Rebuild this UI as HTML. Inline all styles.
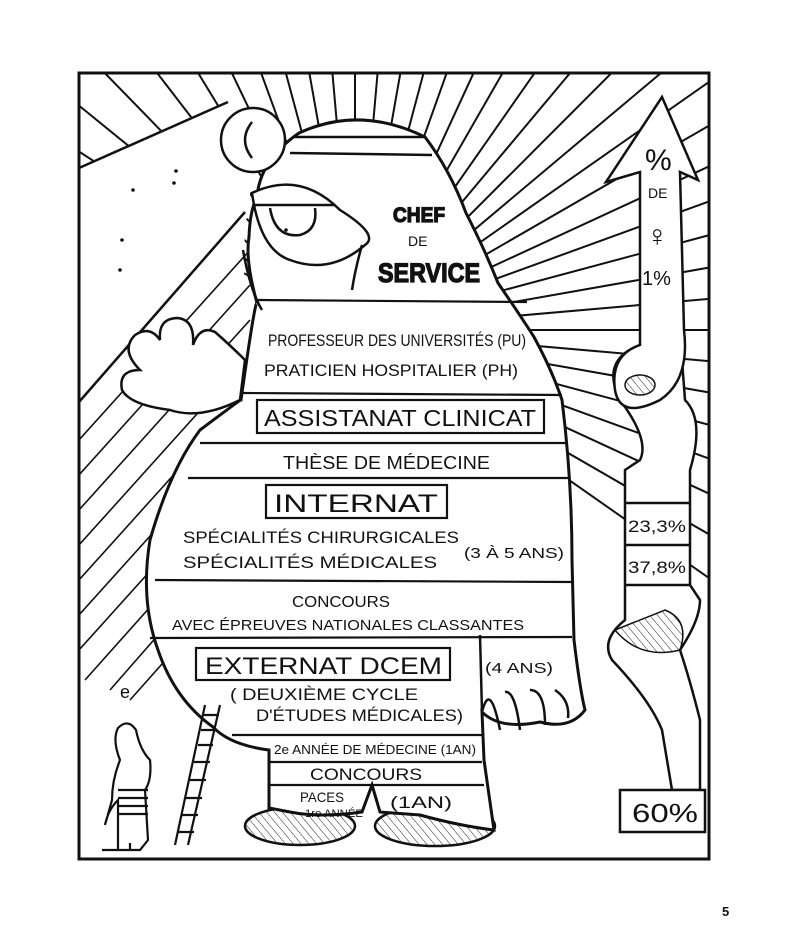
<!DOCTYPE html>
<html><head><meta charset="utf-8"><style>
html,body{margin:0;padding:0;background:#fff;width:800px;height:950px;overflow:hidden}
svg{display:block}
text{font-family:"Liberation Sans",sans-serif;fill:#111}
</style></head><body>
<svg width="800" height="950" viewBox="0 0 800 950" xmlns="http://www.w3.org/2000/svg">
<defs>
<clipPath id="fr"><rect x="79" y="73" width="630" height="786"/></clipPath>
<pattern id="hatch" width="6" height="6" patternUnits="userSpaceOnUse" patternTransform="rotate(-40)">
<line x1="0" y1="0" x2="0" y2="6" stroke="#222" stroke-width="1"/></pattern>
</defs>
<g clip-path="url(#fr)" stroke="#111" stroke-width="2">
<path d="
M355,330 L1155,330 M355,330 L1152,260 M355,330 L1143,191 M355,330 L1128,123 M355,330 L1107,57 M355,330 L1082,-6 M355,330 L1048,-70 M355,330 L1010,-129 M355,330 L967,-184 M355,330 L920,-236 M355,330 L868,-283 M355,330 L812,-324 M355,330 L753,-363 M355,330 L690,-396 M355,330 L624,-424 M355,330 L562,-446 M355,330 L495,-463 M355,330 L425,-467 M355,330 L355,-470 M355,330 L285,-467 M355,330 L215,-458 M355,330 L147,-443 M355,330 L80,-423 M355,330 L10,-390 M355,330 L-60,-350 M355,330 L-130,-300 M355,330 L-200,-240 M355,330 L-260,-170 M355,330 L-310,-100 M355,330 L-350,-30
M355,330 L1152,400 M355,330 L1143,469 M355,330 L1128,537 M355,330 L1107,603 M355,330 L1082,666 M355,330 L1048,730 M355,330 L1010,789"/>
</g>
<!-- blank plateau top-left -->
<path d="M79,168 L230,100 L250,130 L250,215 L79,405 Z" fill="#fff" stroke="none"/>
<path d="M79,168 L228,102" stroke="#111" stroke-width="2.5" fill="none"/>
<path d="M79,402 L245,212" stroke="#111" stroke-width="2.5" fill="none"/>
<g fill="#111"><circle cx="133" cy="190" r="1.8"/><circle cx="174" cy="183" r="1.8"/><circle cx="176" cy="171" r="1.8"/><circle cx="122" cy="240" r="1.8"/><circle cx="120" cy="270" r="1.8"/></g>
<!-- hatching left of body -->
<path d="M79,405 L245,215 L240,540 L140,660 L79,700 Z" fill="#fff" stroke="none"/>
<g clip-path="url(#fr)" stroke="#111" stroke-width="1.6">
<path d="M79,440 L250,250 M79,475 L250,285 M79,510 L250,320 M79,545 L250,355 M79,580 L250,390 M79,615 L250,425 M79,650 L250,460 M85,680 L250,495 M110,690 L250,530 M130,700 L250,565"/>
</g>

<!-- right ribbon -->
<g stroke="#111" stroke-width="2.5" fill="#fff">
<path d="M640,345 Q600,360 620,400 Q650,440 640,460 L625,470 L625,620 Q600,640 612,660 Q650,700 662,730 L672,790 L700,790 L700,720 Q690,680 680,650 Q700,620 700,600 L690,585 L690,470 Q705,420 685,400 L682,360"/>
<path d="M662,97 L698,180 L680,172 L684,330 Q690,380 660,400 Q620,420 615,390 Q610,355 640,345 L640,172 L606,182 Z"/>
<path d="M620,790 L705,790 L705,832 L620,832 Z"/>
<path d="M625,503 L690,503 M625,545 L690,545 M625,585 L690,585"/>
</g>
<ellipse cx="640" cy="385" rx="15" ry="10" fill="url(#hatch)" stroke="#111" stroke-width="1.5"/>
<path d="M615,630 Q640,660 680,650 Q690,620 665,610 Z" fill="url(#hatch)" stroke="#111" stroke-width="1.5"/>
<text x="645" y="170" font-size="30">%</text>
<text x="648" y="198" font-size="14">DE</text>
<text x="646" y="246" font-size="30">♀</text>
<text x="642" y="285" font-size="20">1%</text>
<text x="628" y="532" font-size="17" textLength="58" lengthAdjust="spacingAndGlyphs">23,3%</text>
<text x="628" y="573" font-size="17" textLength="58" lengthAdjust="spacingAndGlyphs">37,8%</text>
<text x="632" y="822" font-size="26" textLength="66" lengthAdjust="spacingAndGlyphs">60%</text>

<!-- left hand -->
<g stroke="#111" stroke-width="2.5" fill="#fff">
<path d="M240,400 Q200,420 170,410 Q130,405 122,390 Q118,370 140,370 Q120,350 135,335 Q150,325 160,340 Q158,318 178,318 Q195,320 193,345 Q200,325 215,332 Q230,345 245,360 Z"/>
</g>
<!-- feet -->
<ellipse cx="300" cy="826" rx="55" ry="19" fill="#fff" stroke="#111" stroke-width="2.5"/>
<ellipse cx="300" cy="826" rx="55" ry="19" fill="url(#hatch)"/>
<ellipse cx="435" cy="826" rx="60" ry="20" fill="#fff" stroke="#111" stroke-width="2.5"/>
<ellipse cx="435" cy="826" rx="60" ry="20" fill="url(#hatch)"/>

<!-- body -->
<path d="M299,133 Q360,105 425,137 Q450,170 466,213 Q485,250 498,283 Q520,315 534,337 Q552,370 562,400 Q572,480 572,560 L574,640 Q580,690 585,710 Q570,730 540,722 Q500,730 482,712 L484,760 L494,830 Q460,826 420,815 L380,812 L372,785 L362,812 Q320,818 290,812 L269,808 L269,750 Q230,745 213,727 Q175,700 158,650 Q140,600 150,540 Q170,470 200,430 Q240,400 241,400 Q255,300 257,303 Q245,260 249,237 Q250,210 257,197 Q260,160 299,133 Z" fill="#fff" stroke="#111" stroke-width="3"/>
<!-- right hand fingers -->
<g stroke="#111" stroke-width="2.5" fill="none">
<path d="M482,712 Q490,680 500,730 M505,692 Q515,690 520,730 M530,690 Q545,690 545,725 M555,690 Q570,700 568,718"/>
<path d="M480,635 L482,712"/>
</g>
<!-- head bands / mirror -->
<g stroke="#111" stroke-width="2.5" fill="#fff">
<path d="M295,137 L425,137 M290,153 L432,155" fill="none"/>
<circle cx="253" cy="140" r="32"/>
<path d="M252,122 Q238,140 252,158" fill="none"/>
<path d="M252,193 Q300,170 340,210 Q380,235 365,245 Q330,275 290,260 Q260,250 252,193 Z" fill="#fff"/>
<path d="M255,205 L335,205" fill="none"/>
<path d="M270,208 Q275,238 300,235 Q318,230 315,208" fill="none"/>
<path d="M243,250 Q250,290 262,310 M362,245 Q355,270 352,290" fill="none"/>
</g>
<circle cx="286" cy="230" r="1.8" fill="#111"/>

<!-- band lines -->
<g stroke="#111" stroke-width="2.2" fill="none">
<path d="M257,300 L527,302"/>
<path d="M243,393 L562,395"/>
<path d="M200,443 L568,443"/>
<path d="M188,478 L570,478"/>
<path d="M155,580 L572,582"/>
<path d="M150,638 L572,637"/>
<path d="M232,735 L482,735"/>
<path d="M269,762 L482,762"/>
<path d="M269,785 L484,785"/>
<rect x="257" y="400" width="287" height="33"/>
<rect x="266" y="485" width="181" height="33"/>
<rect x="196" y="648" width="254" height="32"/>
</g>

<!-- texts -->
<g>
<text x="393" y="222" font-size="21" font-weight="bold" textLength="52" lengthAdjust="spacingAndGlyphs" fill="#fff" stroke="#111" stroke-width="1.3">CHEF</text>
<text x="408" y="246" font-size="14">DE</text>
<text x="378" y="282" font-size="27" font-weight="bold" textLength="102" lengthAdjust="spacingAndGlyphs" fill="#fff" stroke="#111" stroke-width="1.3">SERVICE</text>
<text x="268" y="346" font-size="17" textLength="258" lengthAdjust="spacingAndGlyphs">PROFESSEUR DES UNIVERSITÉS (PU)</text>
<text x="264" y="376" font-size="17" textLength="254" lengthAdjust="spacingAndGlyphs">PRATICIEN HOSPITALIER  (PH)</text>
<text x="264" y="426" font-size="23" textLength="272" lengthAdjust="spacingAndGlyphs">ASSISTANAT CLINICAT</text>
<text x="283" y="469" font-size="18" textLength="207" lengthAdjust="spacingAndGlyphs">THÈSE DE MÉDECINE</text>
<text x="274" y="512" font-size="25" textLength="164" lengthAdjust="spacingAndGlyphs">INTERNAT</text>
<text x="183" y="543" font-size="17" textLength="276" lengthAdjust="spacingAndGlyphs">SPÉCIALITÉS CHIRURGICALES</text>
<text x="183" y="568" font-size="17" textLength="254" lengthAdjust="spacingAndGlyphs">SPÉCIALITÉS MÉDICALES</text>
<text x="464" y="558" font-size="15" textLength="100" lengthAdjust="spacingAndGlyphs">(3 À 5 ANS)</text>
<text x="292" y="607" font-size="16" textLength="98" lengthAdjust="spacingAndGlyphs">CONCOURS</text>
<text x="172" y="630" font-size="15" textLength="352" lengthAdjust="spacingAndGlyphs">AVEC ÉPREUVES NATIONALES CLASSANTES</text>
<text x="205" y="674" font-size="24" textLength="237" lengthAdjust="spacingAndGlyphs">EXTERNAT DCEM</text>
<text x="485" y="673" font-size="15" textLength="68" lengthAdjust="spacingAndGlyphs">(4 ANS)</text>
<text x="230" y="700" font-size="17" textLength="188" lengthAdjust="spacingAndGlyphs">( DEUXIÈME CYCLE</text>
<text x="256" y="721" font-size="17" textLength="207" lengthAdjust="spacingAndGlyphs">D'ÉTUDES MÉDICALES)</text>
<text x="274" y="754" font-size="13" textLength="202" lengthAdjust="spacingAndGlyphs">2e ANNÉE DE MÉDECINE (1AN)</text>
<text x="310" y="780" font-size="17" textLength="112" lengthAdjust="spacingAndGlyphs">CONCOURS</text>
<text x="300" y="802" font-size="14" textLength="44" lengthAdjust="spacingAndGlyphs">PACES</text>
<text x="305" y="817" font-size="11" textLength="58" lengthAdjust="spacingAndGlyphs">1re ANNÉE</text>
<text x="390" y="808" font-size="17" textLength="62" lengthAdjust="spacingAndGlyphs">(1AN)</text>
</g>

<!-- ladder -->
<g stroke="#111" stroke-width="2.2" fill="none">
<path d="M175,845 L205,705 M188,845 L220,705"/>
<path d="M204,715 L219,715 M201,730 L216,730 M198,745 L213,745 M194,762 L210,762 M190,780 L206,780 M186,798 L202,798 M182,815 L198,815 M178,832 L194,832"/>
</g>
<!-- little man -->
<g stroke="#111" stroke-width="2.2" fill="#fff">
<path d="M120,760 Q112,740 118,728 Q128,718 136,730 Q140,750 150,760 Q152,780 145,790 L148,840 L140,850 L118,850 L118,800 Q108,810 105,825 L112,800 Q112,780 120,760 Z"/>
<path d="M118,790 L148,790 M118,798 L148,798 M118,806 L148,806 M118,814 L148,814"/>
<path d="M130,843 L130,850 M118,850 L102,850" fill="none"/>
</g>
<text x="120" y="698" font-size="18">e</text>

<!-- frame -->
<rect x="79" y="73" width="630" height="786" fill="none" stroke="#111" stroke-width="3"/>
<text x="722" y="916" font-size="13" font-weight="bold">5</text>
</svg>
</body></html>
